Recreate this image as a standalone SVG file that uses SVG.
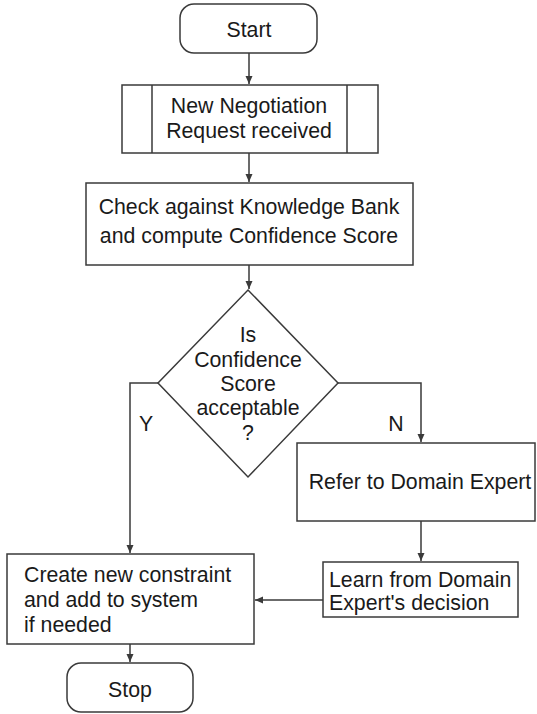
<svg xmlns="http://www.w3.org/2000/svg" width="537" height="714" viewBox="0 0 537 714">
<style>
.box{fill:#fff;stroke:#3a3a3a;stroke-width:1.5}
.ln{fill:none;stroke:#3a3a3a;stroke-width:1.5}
text{font-family:"Liberation Sans",Arial,sans-serif;font-size:21.3px;fill:#1a1a1a}
.c{text-anchor:middle}
</style>
<defs>
<marker id="ah" markerUnits="userSpaceOnUse" markerWidth="8" markerHeight="8" refX="8" refY="4" orient="auto">
<path d="M0,0.5 L8,4 L0,7.5 z" fill="#3a3a3a"/>
</marker>
</defs>
<rect width="537" height="714" fill="#fff"/>
<g id="connectors">
<path class="ln" d="M249,53 V84" marker-end="url(#ah)"/>
<path class="ln" d="M249,153 V182" marker-end="url(#ah)"/>
<path class="ln" d="M249,265 V289" marker-end="url(#ah)"/>
<path class="ln" d="M158,383 H130 V553" marker-end="url(#ah)"/>
<path class="ln" d="M338,383 H421 V442" marker-end="url(#ah)"/>
<path class="ln" d="M421,521 V561" marker-end="url(#ah)"/>
<path class="ln" d="M323,600 H255" marker-end="url(#ah)"/>
<path class="ln" d="M130,644 V662" marker-end="url(#ah)"/>
<text class="c" x="146" y="431">Y</text>
<text class="c" x="396" y="431">N</text>
</g>
<g id="start">
<rect class="box" x="180" y="4" width="137" height="49" rx="14"/>
<text class="c" x="249" y="37">Start</text>
</g>
<g id="request">
<rect class="box" x="122" y="85" width="256" height="68"/>
<path class="ln" d="M152,85 V153 M347,85 V153"/>
<text class="c" x="249" y="113">New Negotiation</text>
<text class="c" x="249" y="138">Request received</text>
</g>
<g id="check">
<rect class="box" x="86" y="183" width="327" height="82"/>
<text class="c" x="249" y="214">Check against Knowledge Bank</text>
<text class="c" x="249" y="243">and compute Confidence Score</text>
</g>
<g id="decision">
<polygon class="box" points="248,290 338,383 248,477 158,383"/>
<text class="c" x="248" y="342">Is</text>
<text class="c" x="248" y="367">Confidence</text>
<text class="c" x="248" y="391">Score</text>
<text class="c" x="248" y="415">acceptable</text>
<text class="c" x="248" y="440">?</text>
</g>
<g id="refer">
<rect class="box" x="297" y="443" width="238" height="78"/>
<text class="c" x="420" y="489">Refer to Domain Expert</text>
</g>
<g id="learn">
<rect class="box" x="323" y="562" width="195" height="55"/>
<text x="329" y="587">Learn from Domain</text>
<text x="329" y="610">Expert's decision</text>
</g>
<g id="create">
<rect class="box" x="7" y="554" width="247" height="90"/>
<text x="24" y="582">Create new constraint</text>
<text x="24" y="607">and add to system</text>
<text x="24" y="632">if needed</text>
</g>
<g id="stop">
<rect class="box" x="67" y="663" width="126" height="49" rx="14"/>
<text class="c" x="130" y="697">Stop</text>
</g>
</svg>
